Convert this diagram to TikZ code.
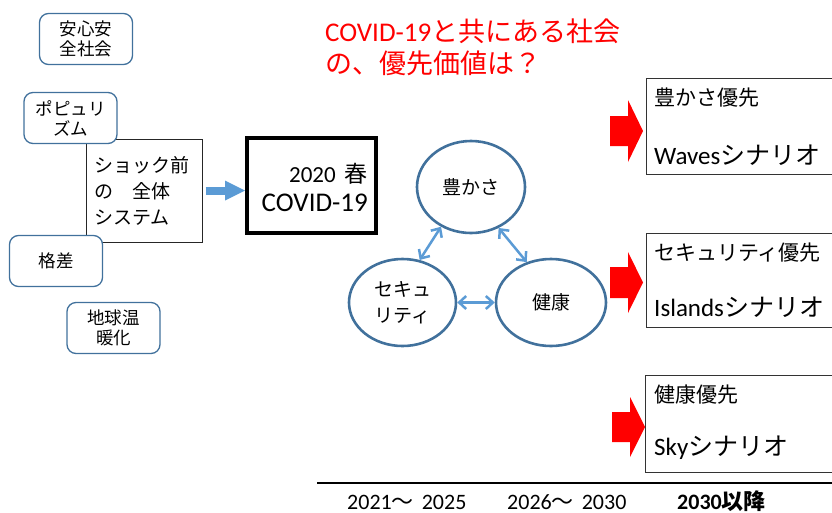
\documentclass[tikz,border=0pt]{standalone}
\usepackage{fontspec}
\setmainfont{Carlito}
\newfontfamily\jp{Noto Sans CJK JP}
\usetikzlibrary{shapes.geometric,arrows.meta}
\definecolor{rbord}{HTML}{41719C}
\definecolor{lblue}{HTML}{5B9BD5}
\definecolor{redc}{HTML}{FF0000}
\begin{document}
\begin{tikzpicture}[x=1pt,y=-1pt,
  rbox/.style={draw=rbord, line width=1.3pt, rounded corners=9pt, fill=white,
    minimum width=93pt, minimum height=51pt, inner sep=0pt, align=center,
    font=\jp\fontsize{17.5}{20}\selectfont},
  circ/.style={ellipse, draw=rbord, line width=2.6pt, fill=white, inner sep=0pt,
    align=center, font=\jp\fontsize{19}{26}\selectfont},
  dblarrow/.style={draw=lblue, line width=2.5pt,
    {Straight Barb[length=7pt,width=13pt]}-{Straight Barb[length=7pt,width=13pt]}},
  scen/.style={draw=black!80, line width=1pt, inner sep=0pt, anchor=north west, minimum width=190pt},
  lineA/.style={anchor=west, inner sep=0pt, font=\jp\fontsize{21}{25}\selectfont},
  lineB/.style={anchor=west, inner sep=0pt, font=\fontsize{25}{30}\selectfont},
  period/.style={anchor=west, inner sep=0pt, font=\fontsize{22}{26}\selectfont},
]
\useasboundingbox (0,0) rectangle (832,512);
\clip (0,0) rectangle (832,512);

% pre-shock system box
\node[draw=black!85, line width=1pt, minimum width=116pt, minimum height=103pt,
  text width=100pt, inner xsep=8pt, inner ysep=0pt, align=left,
  font=\jp\fontsize{19}{26}\selectfont] (shock) at (144,190.5)
  {ショック前\\の　全体\\システム};

% rounded issue boxes
\node[rbox] (anshin) at (86,39) {安心安\\全社会};
\node[rbox] (popu) at (70.5,118) {ポピュリ\\ズム};
\node[rbox] (kakusa) at (56,261) {格差};
\node[rbox] (ondan) at (113.5,328) {地球温\\暖化};

% COVID box
\node[draw, line width=4pt, minimum width=129pt, minimum height=95pt] (covid) at (311.5,185.5) {};
\node[anchor=east, inner sep=0pt, font=\fontsize{23}{28}\selectfont] (covA) at (368,174) {2020\hspace{9pt}{\jp 春}};
\node[anchor=east, inner sep=0pt, font=\fontsize{27}{32}\selectfont] (covB) at (368,203) {COVID-19};

% blue block arrow
\draw[lblue, line width=8pt, shorten <=3pt,
  -{Triangle[length=20pt,width=20pt,line width=0pt]}]
  (shock.east) -- (shock.east -| covid.west);

% title
\node[anchor=west, align=left, text=redc, inner sep=0pt,
  font=\fontsize{27}{32}\selectfont] (title) at (325,47)
  {COVID-19{\jp と共にある社会}\\{\jp の、優先価値は？}};

% value circles
\node[circ, minimum width=108pt, minimum height=92pt] (yu) at (471,187) {豊かさ};
\node[circ, minimum width=107pt, minimum height=87pt] (sec) at (402.5,302.5) {セキュ\\リティ};
\node[circ, minimum width=110pt, minimum height=87pt] (ken) at (551,302.5) {健康};

\draw[dblarrow] (yu.233) -- (sec.68);
\draw[dblarrow] (yu.304) -- (ken.121);
\draw[dblarrow] (sec.east) -- (ken.west);

% scenario boxes
\node[scen, minimum height=96pt] (b1) at (646,78) {};
\node[scen, minimum height=94pt] (b2) at (646,233) {};
\node[scen, minimum height=97pt] (b3) at (645,375) {};

\node[lineA] (t1a) at (654,98) {豊かさ優先};
\node[lineB] (t1b) at (654,155) {Waves{\jp シナリオ}};
\node[lineA] (t2a) at (654,253) {セキュリティ優先};
\node[lineB] (t2b) at (654,307) {Islands{\jp シナリオ}};
\node[lineA] (t3a) at (654,395) {健康優先};
\node[lineB] (t3b) at (654,448) {Sky{\jp シナリオ}};

% red block arrows
\fill[redc] (610,116) -- (628,116) -- (628,100) -- (643,131) -- (628,162) -- (628,146) -- (610,146) -- cycle;
\fill[redc] (610,267) -- (628,267) -- (628,252) -- (643,282.5) -- (628,313) -- (628,298) -- (610,298) -- cycle;
\fill[redc] (612,412) -- (630,412) -- (630,397) -- (645,427) -- (630,457) -- (630,442) -- (612,442) -- cycle;

% timeline
\coordinate (tl) at (317,483);
\coordinate (tr) at (832,483);
\draw[line width=2pt] (tl) -- (tr);
\node[period] (p1) at (347,502.5) {2021\smash{\jp ～}\hspace{8pt}2025};
\node[period] (p2) at (507,502.5) {2026\smash{\jp ～}\hspace{8pt}2030};
\node[period, font=\bfseries\fontsize{22}{26}\selectfont] (p3) at (677,502.5) {2030\smash{\jp 以降}};
\end{tikzpicture}
\end{document}
